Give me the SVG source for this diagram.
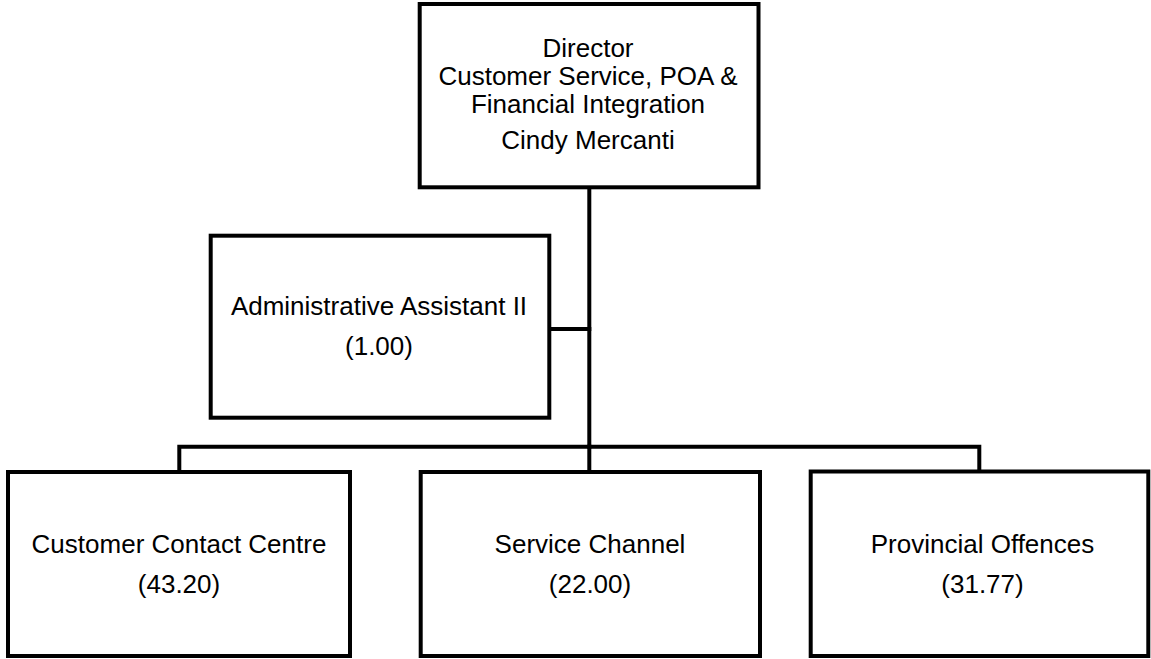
<svg xmlns="http://www.w3.org/2000/svg" width="1151" height="659" viewBox="0 0 1151 659">
  <style>
    .box { fill: #ffffff; stroke: #000000; stroke-width: 4; }
    .wire { fill: none; stroke: #000000; stroke-width: 4; stroke-linecap: square; }
    .lbl { font-family: "Liberation Sans", Arial, sans-serif; font-size: 26px; fill: #000000; text-anchor: middle; }
  </style>
  <rect width="1151" height="659" fill="#ffffff"/>

  <!-- reporting lines -->
  <g id="connectors">
    <path class="wire" d="M589.3 187 V446.7"/>
    <path class="wire" d="M549.3 329 H589.3"/>
    <path class="wire" d="M179.3 472 V446.7 H979.3 V471.5"/>
    <path class="wire" d="M589.3 446.7 V472"/>
  </g>

  <g id="director">
    <rect class="box" x="419.7" y="4" width="338.8" height="183.3"/>
    <text class="lbl" x="588" y="56.7">Director</text>
    <text class="lbl" x="588" y="85">Customer Service, POA &amp;</text>
    <text class="lbl" x="588" y="113">Financial Integration</text>
    <text class="lbl" x="588" y="149">Cindy Mercanti</text>
  </g>

  <g id="admin-assistant">
    <rect class="box" x="210.7" y="235.7" width="338.6" height="182"/>
    <text class="lbl" x="379" y="315">Administrative Assistant II</text>
    <text class="lbl" x="379" y="355">(1.00)</text>
  </g>

  <g id="customer-contact-centre">
    <rect class="box" x="8" y="472" width="342" height="184"/>
    <text class="lbl" x="179" y="552.7">Customer Contact Centre</text>
    <text class="lbl" x="179" y="592.7">(43.20)</text>
  </g>

  <g id="service-channel">
    <rect class="box" x="420.7" y="472" width="339.3" height="184"/>
    <text class="lbl" x="590" y="552.7">Service Channel</text>
    <text class="lbl" x="590" y="592.7">(22.00)</text>
  </g>

  <g id="provincial-offences">
    <rect class="box" x="810.7" y="471.5" width="337.6" height="184.5"/>
    <text class="lbl" x="982.5" y="552.7">Provincial Offences</text>
    <text class="lbl" x="982.5" y="592.7">(31.77)</text>
  </g>
</svg>
